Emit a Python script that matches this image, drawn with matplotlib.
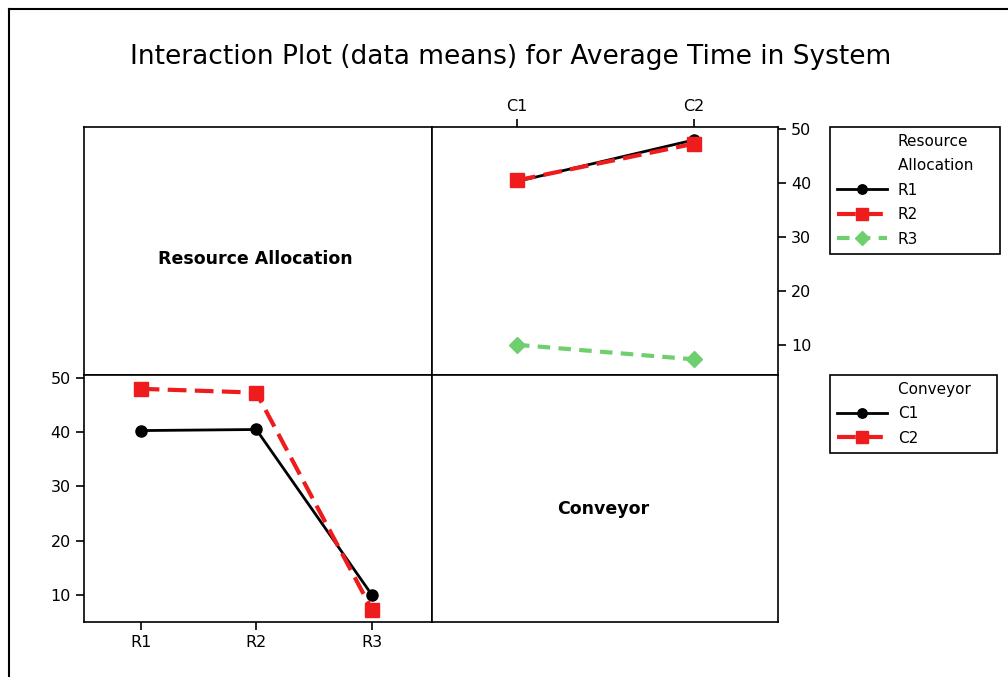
import numpy as np
import matplotlib
matplotlib.use("Agg")
import matplotlib.pyplot as plt
from matplotlib.lines import Line2D

# Data means: rows = resource allocation, columns = conveyor
resource = ['R1', 'R2', 'R3']
conveyor = ['C1', 'C2']
means = np.array([
    [40.3, 48.0],
    [40.5, 47.3],
    [10.0, 7.3],
])

# styles
r_styles = [
    dict(color='black', linestyle='-', marker='o', lw=2, ms=8),
    dict(color='#ee1c1c', linestyle='--', marker='s', lw=3, ms=10, dashes=(4.5, 2)),
    dict(color='#6fcf6f', linestyle='--', marker='D', lw=3, ms=8, dashes=(3, 2)),
]
c_styles = r_styles[:2]

plt.rcParams['font.family'] = 'DejaVu Sans'
fig = plt.figure(figsize=(10.08, 6.77), dpi=100)
W, H = 1008, 677


def box(x0, y0, x1, y1):
    return [x0 / W, 1 - y1 / H, (x1 - x0) / W, (y1 - y0) / H]


ax_tl = fig.add_axes(box(84, 127, 432, 375))
ax_tr = fig.add_axes(box(432, 127, 778, 375))
ax_bl = fig.add_axes(box(84, 375, 432, 622))
ax_br = fig.add_axes(box(432, 375, 778, 622))

for ax in (ax_tl, ax_tr, ax_bl, ax_br):
    for s in ax.spines.values():
        s.set_linewidth(1.2)

# label panels
for ax, name, pos in ((ax_tl, 'Resource Allocation', (0.492, 0.468)),
                      (ax_br, 'Conveyor', (0.494, 0.457))):
    ax.set_xticks([])
    ax.set_yticks([])
    ax.text(pos[0], pos[1], name, ha='center', va='center', fontsize=12.5,
            fontweight='bold', transform=ax.transAxes)

# top right: conveyor on x, one line per resource
xc = np.arange(len(conveyor))
for i, r in enumerate(resource):
    ax_tr.plot(xc, means[i], label=r, **r_styles[i])
ax_tr.set_xlim(-0.48, 1.475)
ax_tr.set_ylim(4.4, 50.4)
ax_tr.set_xticks(xc, conveyor)
ax_tr.set_yticks([10, 20, 30, 40, 50])
ax_tr.tick_params(top=True, labeltop=True, bottom=False, labelbottom=False,
                  right=True, labelright=True, left=False, labelleft=False,
                  direction='out', length=6, width=1.2, labelsize=11.5)

# bottom left: resource on x, one line per conveyor
xr = np.arange(len(resource))
for j, c in enumerate(conveyor):
    ax_bl.plot(xr, means[:, j], label=c, **c_styles[j])
ax_bl.set_xlim(-0.49, 2.52)
ax_bl.set_ylim(5.0, 50.55)
ax_bl.set_xticks(xr, resource)
ax_bl.set_yticks([10, 20, 30, 40, 50])
ax_bl.tick_params(direction='out', length=6, width=1.2, labelsize=11.5)

# legends with the title placed in line with the labels
blank = Line2D([], [], color='none')
leg_kw = dict(loc='upper left', fancybox=False, edgecolor='black',
              framealpha=1, fontsize=11, handlelength=3.3, handletextpad=0.7,
              borderpad=0.45, labelspacing=0.62, borderaxespad=0,
              markerscale=0.85)

h_r, l_r = ax_tr.get_legend_handles_labels()
leg1 = fig.legend([blank, blank] + h_r, ['Resource', 'Allocation    '] + l_r,
                  bbox_to_anchor=(830 / W, 1 - 127 / H), **leg_kw)
leg1.get_frame().set_linewidth(1.2)

h_c, l_c = ax_bl.get_legend_handles_labels()
leg2 = fig.legend([blank] + h_c, ['Conveyor    '] + l_c,
                  bbox_to_anchor=(830 / W, 1 - 375 / H), **leg_kw)
leg2.get_frame().set_linewidth(1.2)

fig.text(511 / W, 1 - 57 / H,
         'Interaction Plot (data means) for Average Time in System',
         ha='center', va='center', fontsize=19)

# outer border lines (left and top)
fig.add_artist(Line2D([9 / W, 9 / W], [0, 1 - 9 / H], color='black', lw=1.5))
fig.add_artist(Line2D([9 / W, 1], [1 - 9 / H, 1 - 9 / H], color='black', lw=1.5))

fig.savefig('out.png', dpi=100)
